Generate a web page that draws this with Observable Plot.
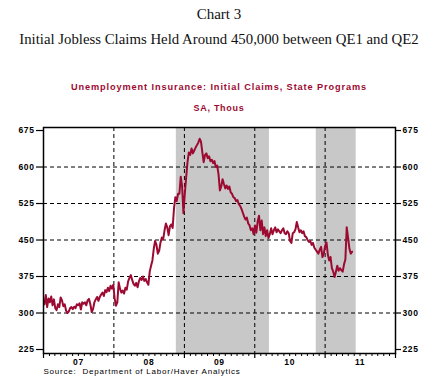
<!DOCTYPE html>
<html><head><meta charset="utf-8">
<script src="https://cdn.jsdelivr.net/npm/d3@7"></script>
<script src="https://cdn.jsdelivr.net/npm/@observablehq/plot@0.6"></script>
<style>
body{margin:0;background:#fff;}
#wrap{position:relative;width:438px;height:380px;overflow:hidden;background:#fff;}
#chart{position:absolute;left:0;top:0;}
.t{position:absolute;left:0;width:438px;text-align:center;white-space:nowrap;line-height:1;}
#t1{top:6px;font:15px "Liberation Serif","Times New Roman",serif;color:#111;}
#t2{top:31px;font:14.8px "Liberation Serif","Times New Roman",serif;color:#111;}
#s1{top:82px;font:bold 9.2px "Liberation Sans",Arial,sans-serif;color:#9c0a32;letter-spacing:0.9px;}
#s2{top:103px;font:bold 9px "Liberation Sans",Arial,sans-serif;color:#9c0a32;letter-spacing:0.7px;}
svg text{letter-spacing:0.6px;}
svg g[aria-label="text"]:last-of-type text{letter-spacing:0.78px;}
</style></head>
<body>
<div id="wrap"><div id="chart"></div>
<div class="t" id="t1">Chart 3</div>
<div class="t" id="t2">Initial Jobless Claims Held Around 450,000 between QE1 and QE2</div>
<div class="t" id="s1">Unemployment Insurance: Initial Claims, State Programs</div>
<div class="t" id="s2">SA, Thous</div>
</div>
<script>
// Weekly initial claims (thousands, SA), weeks ending Saturdays from 2007-01-06
const claims2007 = [318,337,312,330, 322,334,316,328, 310,306,318,312, 332,326,314,318,
  305,300,303,310, 312,308,313,310, 318,316,320,307, 322,319,322,316, 326,329,318,302,
  308,322,328,333, 325,333,338,342, 335,347,343,352, 345,356,350,358];
const claims2008 = [330,315,322,363,350,342,346,340, 352,348,365,372,378,368,360,356,
  362,353,365,372,368,375,366,370, 363,358,385,397,408,432,448,440,
  422,428,445,455,452,470,484,476, 460,478,482,475,515,538,530,545, 545,580,560,505];
const claims2009 = [545,578,610,630,625,638,628,634, 640,645,650,658,652,630,610,625,
  628,618,622,612,615,608,612,600, 603,585,552,560,575,565,556,562,
  555,560,548,545,538,536,530,532, 524,520,514,506,498,492,496,484, 480,470,474,462];
const claims2010 = [480,465,488,500,470,490,462,476, 458,470,454,462,474,462,470,476,
  466,472,468,464,470,474,464,462, 468,464,448,444,464,466,472,487,
  476,466,470,464,468,458,456,450, 446,448,440,444,434,430,426,422, 430,436,415,422];
const claims2011 = [438,445,420,408,415,392,385,374,385,397,387,392,388,385,400,410,476,455,432,422,426];
const firstWeekEnding = "2007-01-06";

const qeStarts = ["2008-11-20", "2010-11-16"];
const qeEnds = ["2010-03-18", "2011-06-11"];

const yTicks = [225, 300, 375, 450, 525, 600, 675];
const gridY = [300, 375, 450, 525, 600];
const years = [2007, 2008, 2009, 2010, 2011];
const yearLabels = ["07", "08", "09", "10", "11"];
const sourceText = "Source:  Department of Labor/Haver Analytics";

const lineColor = "#9c0a32";
const start = new Date(firstWeekEnding + "T00:00:00Z");
const values = [claims2007, claims2008, claims2009, claims2010, claims2011].flat();
const data = values.map((v, i) => ({date: d3.utcDay.offset(start, 7 * i), value: v}));
const qe = qeStarts.map((s, i) => ({start: new Date(s + "T00:00:00Z"), end: new Date(qeEnds[i] + "T00:00:00Z")}));
const yearStart = y => new Date(Date.UTC(y, 0, 1));
const boundaries = years.slice(1).map(yearStart);
const allYearTicks = years.concat([2012]).map(yearStart);
const monthTicks = d3.utcMonth.range(yearStart(2007), yearStart(2012)).filter(d => d.getUTCMonth() !== 0);
const yearMid = years.map((y, i) => ({date: new Date(Date.UTC(y, 6, 1)), label: yearLabels[i]}));

const chart = Plot.plot({
  width: 438, height: 380,
  marginTop: 127, marginBottom: 27, marginLeft: 43, marginRight: 43,
  x: {type: "utc", domain: [yearStart(2007), yearStart(2012)]},
  y: {domain: [216.8, 681.2]},
  style: {fontFamily: "'Liberation Sans', Arial, sans-serif", background: "white", color: "black"},
  marks: [
    Plot.rect(qe, {x1: "start", x2: "end", fill: "#c8c8c8"}),
    Plot.ruleY(gridY, {stroke: "black", strokeWidth: 1, strokeDasharray: "4,3"}),
    Plot.ruleX(boundaries, {stroke: "black", strokeWidth: 1, strokeDasharray: "4,3"}),
    Plot.line(data, {x: "date", y: "value", stroke: lineColor, strokeWidth: 2}),
    Plot.frame({stroke: "black", strokeWidth: 1.5}),
    Plot.axisY(yTicks, {anchor: "left", tickSize: 7, tickPadding: 2, fontSize: 8.5, fontWeight: "bold", label: null, strokeWidth: 1.2}),
    Plot.axisY(yTicks, {anchor: "right", tickSize: 5, tickPadding: 2, fontSize: 8.5, fontWeight: "bold", label: null, strokeWidth: 1.2}),
    Plot.axisX(monthTicks, {anchor: "bottom", tickSize: 3, tickFormat: () => "", label: null}),
    Plot.axisX(allYearTicks, {anchor: "bottom", tickSize: 5, tickFormat: () => "", label: null, strokeWidth: 1.2}),
    Plot.text(yearMid, {x: "date", text: "label", frameAnchor: "bottom", dy: 11, fontSize: 8.5, fontWeight: "bold"}),
    Plot.text([sourceText], {text: d => d, frameAnchor: "bottom-left", dy: 20, textAnchor: "start", fontSize: 8})
  ]
});
document.getElementById("chart").appendChild(chart);
</script>
</body></html>
